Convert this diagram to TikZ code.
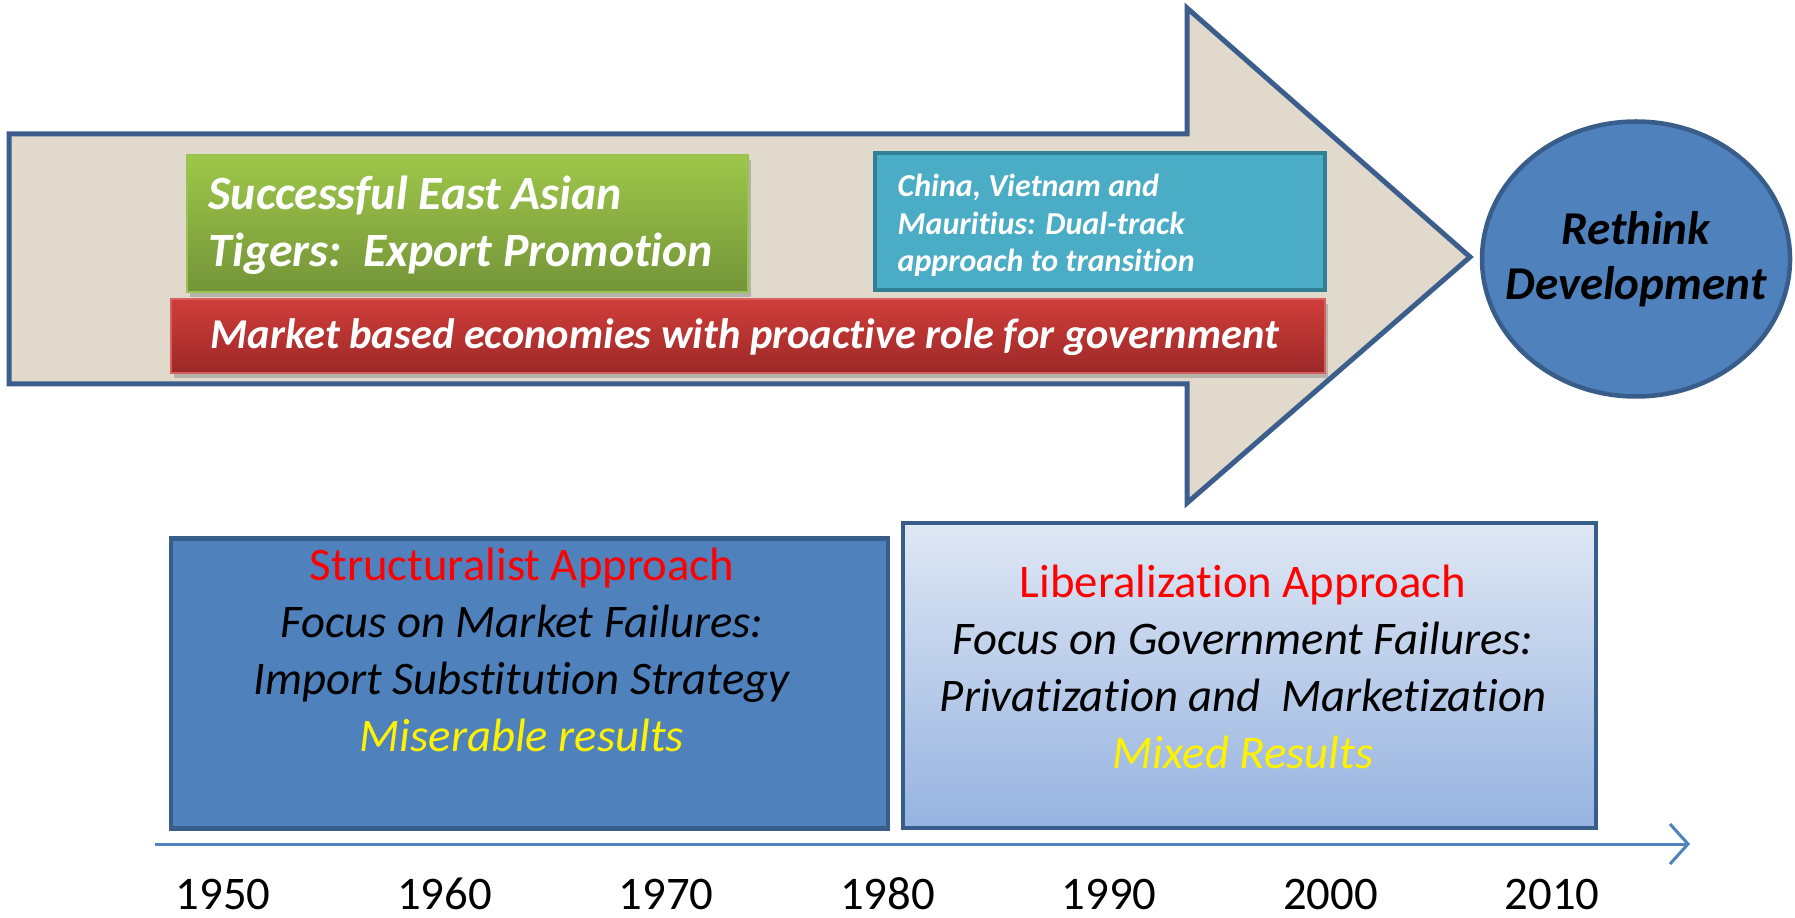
\documentclass[tikz,border=0pt]{standalone}
\usepackage{fontspec}
\setmainfont[Ligatures={NoCommon,NoRare,NoContextual},Contextuals=NoAlternate]{Carlito}
\usepackage{xcolor}
\usepackage{tikz}
\usetikzlibrary{shapes.geometric,shadows,arrows.meta,positioning}

\definecolor{arrowfill}{RGB}{224,217,204}
\definecolor{arrowline}{RGB}{59,94,140}
\definecolor{boxblue}{RGB}{79,129,189}
\definecolor{boxline}{RGB}{56,93,138}
\definecolor{greentop}{RGB}{158,199,74}
\definecolor{greenbot}{RGB}{116,148,56}
\definecolor{greenline}{RGB}{150,196,80}
\definecolor{redtop}{RGB}{208,62,58}
\definecolor{redbot}{RGB}{156,40,40}
\definecolor{redline}{RGB}{214,96,92}
\definecolor{tealfill}{RGB}{75,172,198}
\definecolor{tealline}{RGB}{49,128,150}
\definecolor{paletop}{RGB}{223,231,244}
\definecolor{palebot}{RGB}{150,179,224}
\definecolor{yearline}{RGB}{79,129,189}

\tikzset{
  band/.style={rectangle, inner sep=0pt, line width=0.25mm,
    drop shadow={shadow xshift=0.3mm, shadow yshift=-0.5mm, fill=black!45}},
  bandtext/.style={anchor=west, align=left, inner sep=0pt, text=white},
  phasebox/.style={rectangle, draw=boxline, line width=0.45mm, inner sep=0pt},
  phasetext/.style={align=center, inner sep=0pt,
    font=\fontsize{13.3}{16.2}\selectfont},
  year/.style={inner sep=0pt, font=\fontsize{13.3}{16}\selectfont}
}

\begin{document}
\begin{tikzpicture}[x=0.1mm,y=-0.1mm]
\useasboundingbox (0,0) rectangle (1795,918);

% Big arrow
\draw[arrowline, fill=arrowfill, line width=0.5mm, line join=miter]
  (9,134) -- (1187,134) -- (1187,8) -- (1470,257) -- (1187,503)
  -- (1187,384) -- (9,384) -- cycle;

% East Asian tigers
\node[band, draw=greenline, top color=greentop, bottom color=greenbot,
  minimum width=56.1mm, minimum height=13.7mm] (tigers) at (467.5,223.5) {};
\node[bandtext, font=\fontsize{13.6}{16.2}\selectfont\bfseries\itshape]
  (tigerstext) at (208,225) {Successful East Asian\\Tigers:~~Export Promotion};

% Dual-track transition
\node[rectangle, inner sep=0pt, draw=tealline, fill=tealfill, line width=0.4mm,
  minimum width=45mm, minimum height=13.7mm] (dualtrack) at (1100,221.5) {};
\node[bandtext, font=\fontsize{9.1}{10.7}\selectfont\bfseries\itshape]
  (dualtext) at (897,225.5) {China, Vietnam and\\Mauritius: Dual-track\\approach to transition};

% Market based economies
\node[band, draw=redline, top color=redtop, bottom color=redbot,
  minimum width=115.4mm, minimum height=7.4mm] (market) at (748,336) {};
\node[bandtext, font=\fontsize{12.1}{14}\selectfont\bfseries\itshape]
  (markettext) at (210,337) {Market based economies with proactive role for government};

% Rethink development
\node[ellipse, draw=boxline, fill=boxblue, line width=0.45mm, inner sep=0pt,
  minimum width=30.8mm, minimum height=27.5mm] (rethink) at (1636,259) {};
\node[align=center, inner sep=0pt, font=\fontsize{13.4}{15.8}\selectfont\bfseries\itshape]
  (rethinktext) at (rethink) {Rethink\\Development};

% Structuralist approach
\node[phasebox, fill=boxblue, minimum width=71.7mm, minimum height=29mm]
  (struct) at (529.5,683.5) {};
\node[phasetext] (structtext) at (522,650)
  {\textcolor{red}{Structuralist Approach}\\
   \textit{Focus on Market Failures:}\\
   \textit{Import Substitution Strategy}\\
   \textcolor{yellow}{\textit{Miserable results}}};

% Liberalization approach
\node[phasebox, top color=paletop, bottom color=palebot,
  minimum width=69.3mm, minimum height=30.5mm] (liberal) at (1249.5,675.5) {};
\node[phasetext] (liberaltext) at (1243,667)
  {\textcolor{red}{Liberalization Approach}\\
   \textit{Focus on Government Failures:}\\
   \textit{Privatization and~~Marketization}\\
   \textcolor{yellow}{\textit{Mixed Results}}};

% Time axis
\coordinate (tstart) at (155,844);
\coordinate (tend) at (1690,844);
\draw[yearline, line width=0.3mm, -{Straight Barb[length=1.8mm,width=4mm,line width=0.3mm]}]
  (tstart) -- (tend);

% Year labels
\foreach \i/\yr in {0/1950,1/1960,2/1970,3/1980,4/1990,5/2000,6/2010}
  \node[year] (y\yr) at (223+221.5*\i,894) {\yr};
\end{tikzpicture}
\end{document}
